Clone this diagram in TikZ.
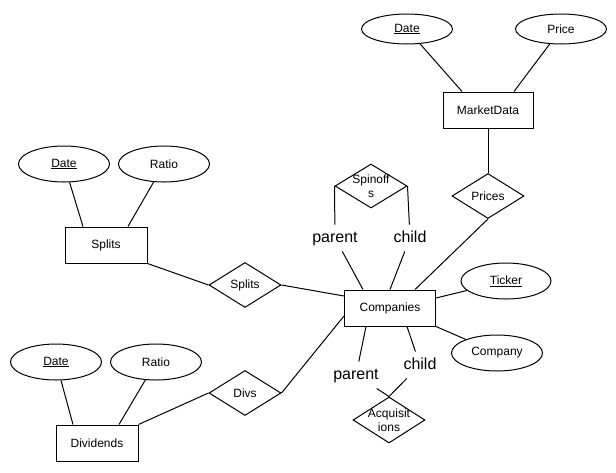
\documentclass[tikz,border=0pt]{standalone}
\usepackage{fontspec}
\setmainfont{Liberation Sans}
\usetikzlibrary{shapes.geometric, calc}

\begin{document}
\begin{tikzpicture}[x=1pt, y=-1pt, line width=1pt,
  entity/.style={draw, rectangle, minimum width=90pt, minimum height=36pt,
    inner sep=0pt, font=\fontsize{12}{14}\selectfont},
  attr/.style={draw, ellipse, minimum width=91pt, minimum height=36pt,
    inner sep=0pt, font=\fontsize{12}{14}\selectfont},
  rel/.style={draw, diamond, minimum width=72pt, minimum height=45pt,
    inner sep=0pt},
  reltext/.style={align=center, inner sep=0pt,
    font=\fontsize{12}{13.5}\selectfont},
  role/.style={inner xsep=2pt, inner ysep=5.5pt, text height=11.5pt,
    text depth=3.4pt, font=\fontsize{16}{19}\selectfont}]

  \useasboundingbox (0, 0) rectangle (616, 472);

  %% market data
  \node[entity] (md) at (488, 110){
    MarketData
  };

  \node[attr, minimum height=30pt] (mdDate) at (407, 29){
    \underline{Date}
  };

  \node[attr, minimum height=30pt] (mdPrice) at (561, 29){
    Price
  };

  \node[rel, label={[reltext]center:Prices}] (prices) at (488, 196) {};

  %% companies
  \node[entity, minimum width=91pt] (comp) at (390, 308){
    Companies
  };

  \node[attr, minimum width=90pt] (ticker) at (506, 281){
    \underline{Ticker}
  };

  \node[attr] (company) at (497, 353){
    Company
  };

  \node[rel, minimum height=44pt, label={[reltext]center:Spinoff\\s}] (spin) at (371, 186) {};

  \node[role] (spP) at (335, 238){
    parent
  };

  \node[role] (spC) at (410, 238){
    child
  };

  \node[rel, minimum height=46pt, label={[reltext]center:Acquisit\\ions}] (acq) at (389, 420) {};

  \node[role] (acP) at (356, 375){
    parent
  };

  \node[role] (acC) at (420, 365){
    child
  };

  %% splits
  \node[entity, minimum width=82pt] (splits) at (106, 245){
    Splits
  };

  \node[attr] (spDate) at (64, 164){
    \underline{Date}
  };

  \node[attr] (spRatio) at (164, 164){
    Ratio
  };

  \node[rel, label={[reltext]center:Splits}] (splitsRel) at (245, 285) {};

  %% dividends
  \node[entity, minimum width=82pt] (divd) at (97, 443){
    Dividends
  };

  \node[attr] (dvDate) at (56, 362){
    \underline{Date}
  };

  \node[attr] (dvRatio) at (156, 362){
    Ratio
  };

  \node[rel, label={[reltext]center:Divs}] (divs) at (245, 393) {};

  \draw (mdDate) -- ($(md.north)+(-26, 0)$);
  \draw (mdPrice) -- ($(md.north)+(26, 0)$);
  \draw (md.south) -- (prices.north);
  \draw (prices.south) -- ($(comp.north)+(25, 0)$);

  \draw (spin.west) -- (spP);
  \draw (spP) -- ($(comp.north)+(-27, 0)$);
  \draw (spin.east) -- (spC);
  \draw (spC) -- (comp.north);

  \draw ($(comp.south)+(-24, 0)$) -- (acP);
  \draw (acP) -- (acq.north);
  \draw ($(comp.south)+(17, 0)$) -- (acC);
  \draw (acC) -- (acq.north);

  \draw ($(comp.east)+(0, -10)$) -- (ticker);
  \draw (comp.south east) -- (company);

  \draw (spDate) -- ($(splits.north)+(-23, 0)$);
  \draw (spRatio) -- ($(splits.north)+(22, 0)$);
  \draw (splits.south east) -- (splitsRel.west);
  \draw (splitsRel.east) -- ($(comp.west)+(0, -12)$);

  \draw (dvDate) -- ($(divd.north)+(-24, 0)$);
  \draw (dvRatio) -- ($(divd.north)+(22, 0)$);
  \draw (divd.north east) -- (divs.west);
  \draw (divs.east) -- ($(comp.west)+(0, 8)$);
\end{tikzpicture}
\end{document}
